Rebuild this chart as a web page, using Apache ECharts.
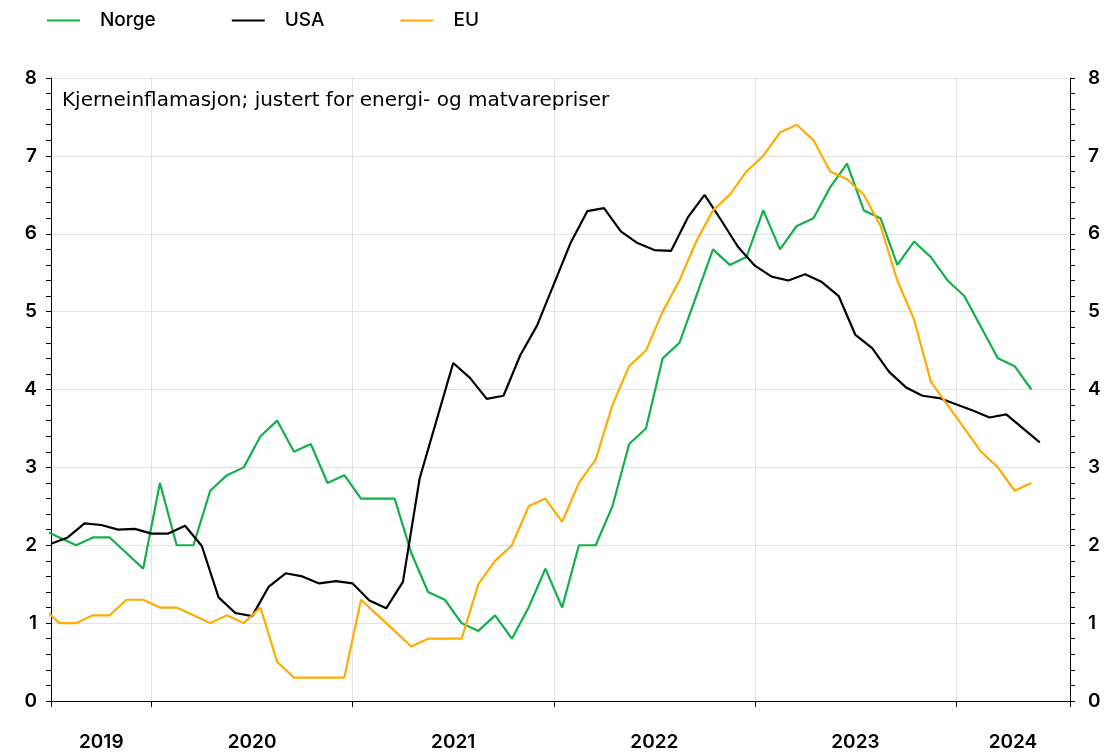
<!DOCTYPE html>
<html>
<head>
<meta charset="utf-8">
<script src="https://cdn.jsdelivr.net/npm/echarts@6/dist/echarts.min.js"></script>
<style>
  html, body { margin: 0; padding: 0; background: #fff; }
  #chart { width: 1115px; height: 754px; }
</style>
</head>
<body>
<div id="chart"></div>
<script>
// monthly data, June 2019 - May 2024
const startYear = 2019
const startMonth = 6

const norge = [
  2.2, 2.1, 2.0, 2.1, 2.1, 1.9, 1.7, 2.8, 2.0, 2.0,
  2.7, 2.9, 3.0, 3.4, 3.6, 3.2, 3.3, 2.8, 2.9, 2.6,
  2.6, 2.6, 1.9, 1.4, 1.3, 1.0, 0.9, 1.1, 0.8, 1.2,
  1.7, 1.2, 2.0, 2.0, 2.5, 3.3, 3.5, 4.4, 4.6, 5.2,
  5.8, 5.6, 5.7, 6.3, 5.8, 6.1, 6.2, 6.6, 6.9, 6.3,
  6.2, 5.6, 5.9, 5.7, 5.4, 5.2, 4.8, 4.4, 4.3, 4.0
]
const usa = [
  2.02, 2.1, 2.28, 2.26, 2.2, 2.21, 2.15, 2.15, 2.25, 1.99,
  1.33, 1.13, 1.09, 1.47, 1.64, 1.6, 1.51, 1.54, 1.51, 1.29,
  1.19, 1.53, 2.86, 3.6, 4.34, 4.15, 3.88, 3.92, 4.44, 4.82,
  5.35, 5.88, 6.29, 6.33, 6.03, 5.88, 5.79, 5.78, 6.21, 6.5,
  6.17, 5.83, 5.59, 5.45, 5.4, 5.48, 5.38, 5.2, 4.7, 4.53,
  4.23, 4.03, 3.92, 3.89, 3.81, 3.73, 3.64, 3.68, 3.5, 3.32
]
const eu = [
  1.2, 1.0, 1.0, 1.1, 1.1, 1.3, 1.3, 1.2, 1.2, 1.1,
  1.0, 1.1, 1.0, 1.2, 0.5, 0.3, 0.3, 0.3, 0.3, 1.3,
  1.1, 0.9, 0.7, 0.8, 0.8, 0.8, 1.5, 1.8, 2.0, 2.5,
  2.6, 2.3, 2.8, 3.1, 3.8, 4.3, 4.5, 5.0, 5.4, 5.9,
  6.3, 6.5, 6.8, 7.0, 7.3, 7.4, 7.2, 6.8, 6.7, 6.5,
  6.1, 5.4, 4.9, 4.1, 3.8, 3.5, 3.2, 3.0, 2.7, 2.8
]

const yearTicks = [2020, 2021, 2022, 2023, 2024]

const xMin = 2019.5
const xMax = 2024.567

// month index -> decimal year; pos = where in the month the point sits
function monthX(i, pos) {
  const m = startMonth - 1 + i
  const y = startYear + Math.floor(m / 12)
  return y + ((m % 12) + pos) / 12
}
function toPoints(values, pos) {
  return values.map((v, i) => [monthX(i, pos), v])
}

// year labels sit in the middle of each year segment
const labelMids = []
const bounds = [xMin].concat(yearTicks, [xMax])
for (let i = 0; i < bounds.length - 1; i++) {
  labelMids.push((bounds[i] + bounds[i + 1]) / 2)
}

const font = 'Inter'
const chart = echarts.init(document.getElementById('chart'))

const yAxisBase = {
  type: 'value',
  min: 0,
  max: 8,
  interval: 1,
  axisLine: { show: true, lineStyle: { color: '#000', width: 1 } },
  axisTick: { show: true, length: 5, lineStyle: { color: '#000' } },
  minorTick: { show: true, splitNumber: 5, length: 5, lineStyle: { color: '#000' } },
  axisLabel: { fontSize: 19, fontWeight: 600, color: '#000', fontFamily: font }
}

chart.setOption({
  animation: false,
  backgroundColor: '#fff',
  title: {
    text: 'Kjerneinflamasjon; justert for energi- og matvarepriser',
    left: 57,
    top: 86,
    textStyle: { fontSize: 20, fontWeight: 'normal', color: '#000', fontFamily: 'DejaVu Sans' }
  },
  legend: {
    left: 42,
    top: 6,
    itemGap: 76,
    itemWidth: 33,
    itemHeight: 2,
    icon: 'rect',
    textStyle: { fontSize: 19, fontWeight: 500, color: '#000', fontFamily: font, padding: [0, 0, 0, 15] },
    data: ['Norge', 'USA', 'EU']
  },
  grid: { left: 51, right: 45, top: 78, bottom: 53 },
  xAxis: {
    type: 'value',
    min: xMin,
    max: xMax,
    axisLine: { show: true, onZero: false, lineStyle: { color: '#000', width: 1 } },
    axisTick: {
      show: true,
      length: 6,
      customValues: [xMin].concat(yearTicks, [xMax]),
      lineStyle: { color: '#000' }
    },
    splitLine: { show: true, lineStyle: { color: '#e3e3e3', width: 1 } },
    axisLabel: {
      customValues: labelMids,
      formatter: v => String(Math.floor(v)),
      margin: 32,
      fontSize: 19,
      fontWeight: 600,
      color: '#000',
      fontFamily: font
    }
  },
  yAxis: [
    Object.assign({}, yAxisBase, {
      position: 'left',
      axisLabel: Object.assign({}, yAxisBase.axisLabel, { margin: 14 }),
      splitLine: { show: true, lineStyle: { color: '#e3e3e3', width: 1 } }
    }),
    Object.assign({}, yAxisBase, {
      position: 'right',
      axisLabel: Object.assign({}, yAxisBase.axisLabel, { margin: 18 }),
      splitLine: { show: false }
    })
  ],
  series: [
    {
      name: 'Norge',
      type: 'line',
      data: toPoints(norge, 0.5),
      showSymbol: false,
      clip: false,
      color: '#12b04a',
      lineStyle: { width: 2.2 }
    },
    {
      name: 'USA',
      type: 'line',
      data: toPoints(usa, 1),
      showSymbol: false,
      clip: false,
      color: '#000000',
      lineStyle: { width: 2.2 }
    },
    {
      name: 'EU',
      type: 'line',
      data: toPoints(eu, 0.5),
      showSymbol: false,
      clip: false,
      color: '#ffab00',
      lineStyle: { width: 2.2 }
    }
  ]
})
</script>
</body>
</html>
